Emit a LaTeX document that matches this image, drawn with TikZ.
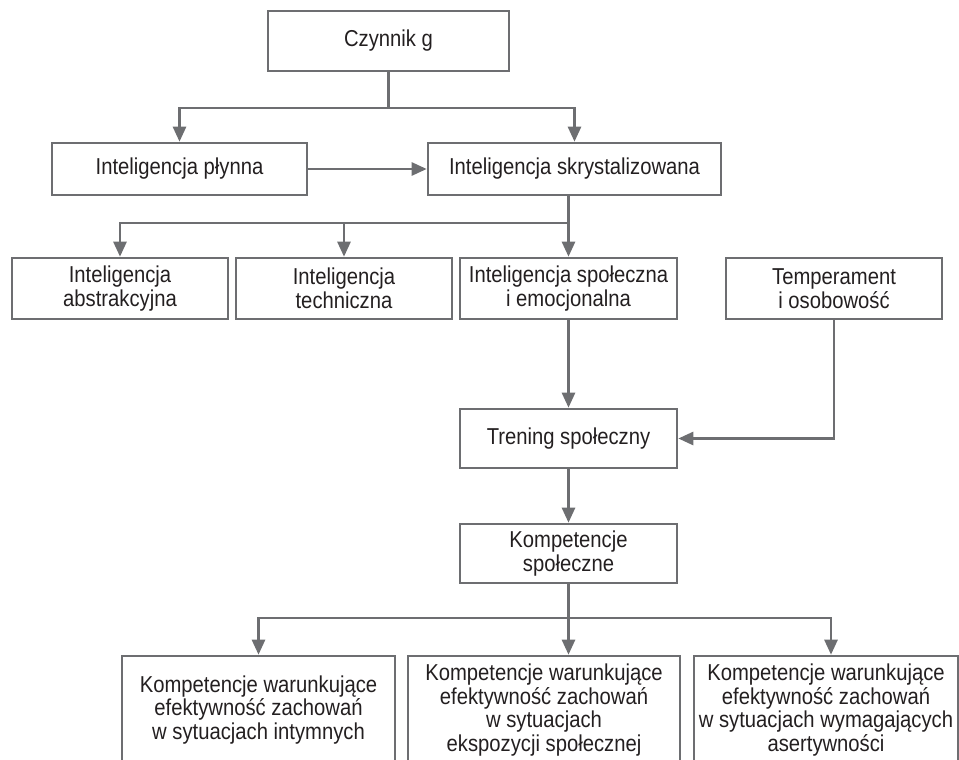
\documentclass[tikz,border=0pt]{standalone}
\usepackage{fontspec}
\setmainfont{Liberation Sans}[FakeStretch=0.88]
\usepackage{tikz}
\usetikzlibrary{arrows.meta}
\definecolor{framegray}{HTML}{6D6E71}
\definecolor{inkdark}{HTML}{231F20}

\begin{document}
\begin{tikzpicture}[x=1pt, y=-1pt,
  box/.style={draw=framegray, line width=2.6pt, text=inkdark, align=center,
    inner sep=2pt, font=\fontsize{23}{23.5}\selectfont},
  link/.style={draw=framegray, line width=2.6pt},
  arr/.style={link, -{Triangle[length=15pt, width=13pt]}}]

  % -- page: the bottom row runs off the lower edge ------------------------
  \clip (0,0) rectangle (959,760);
  \useasboundingbox (0,0) rectangle (959,760);

  % -- top: g factor and the two intelligences ----------------------------
  \node[box, minimum width=241pt, minimum height=60pt] (czynnik) at (388.5,41) {Czynnik g};
  \node[box, minimum width=255pt, minimum height=52pt] (plynna) at (179.5,169) {Inteligencja płynna};
  \node[box, minimum width=293pt, minimum height=52pt] (skryst) at (574.5,169) {Inteligencja skrystalizowana};

  % -- second row ----------------------------------------------------------
  \node[box, minimum width=216pt, minimum height=61pt] (abstr) at (120,288.5) {Inteligencja\\abstrakcyjna};
  \node[box, minimum width=216pt, minimum height=61pt] (techn) at (344,288.5) {Inteligencja\\techniczna};
  \node[box, minimum width=217pt, minimum height=61pt] (spol) at (568.5,288.5) {Inteligencja społeczna\\i emocjonalna};
  \node[box, minimum width=216pt, minimum height=61pt] (temper) at (834,288.5) {Temperament\\i osobowość};

  % -- training and competences ------------------------------------------
  \node[box, minimum width=217pt, minimum height=59pt] (trening) at (568.5,438.5) {Trening społeczny};
  \node[box, minimum width=217pt, minimum height=59pt] (komp) at (568.5,553.5) {Kompetencje\\społeczne};

  % -- bottom row ------------------------------------------------------------
  \node[box, minimum width=273pt, minimum height=108pt] (kintym) at (258.5,710) {Kompetencje warunkujące\\efektywność zachowań\\w sytuacjach intymnych};
  \node[box, minimum width=272pt, minimum height=108pt] (kekspo) at (544,710) {Kompetencje warunkujące\\efektywność zachowań\\w sytuacjach\\ekspozycji społecznej};
  \node[box, minimum width=264pt, minimum height=108pt] (kasert) at (826,710) {Kompetencje warunkujące\\efektywność zachowań\\w sytuacjach wymagających\\asertywności};

  % -- branching points ------------------------------------------------------
  \coordinate (ga) at (czynnik.south |- 0,108);
  \coordinate (gb) at (spol.north |- 0,223);
  \coordinate (gc) at (komp.south |- 0,618);

  % -- connectors ------------------------------------------------------------
  \draw[link] (czynnik.south) -- (ga);
  \draw[arr] (ga) -| (plynna.north);
  \draw[arr] (ga) -| (skryst.north);
  \draw[arr] (plynna.east) -- (skryst.west);

  \draw[link] (spol.north |- skryst.south) -- (gb);
  \draw[arr] (gb) -| (abstr.north);
  \draw[arr] (gb) -| (techn.north);
  \draw[arr] (gb) -- (spol.north);

  \draw[arr] (spol.south) -- (trening.north);
  \draw[arr] (temper.south) |- (trening.east);
  \draw[arr] (trening.south) -- (komp.north);

  \draw[link] (komp.south) -- (gc);
  \draw[arr] (gc) -| (kintym.north);
  \draw[arr] (gc) -- (gc |- kekspo.north);
  \draw[arr] (gc) -| ([xshift=5pt]kasert.north);

\end{tikzpicture}
\end{document}
